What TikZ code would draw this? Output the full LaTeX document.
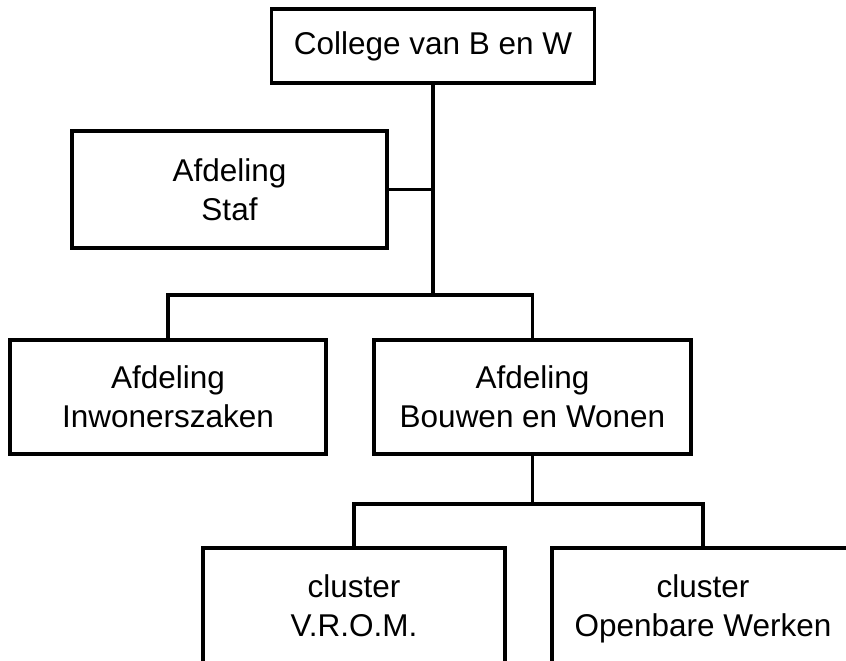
\documentclass[tikz,border=0pt]{standalone}
\usepackage{fontspec}
\setmainfont{Liberation Sans}
\usepackage{tikz}
\usetikzlibrary{positioning, calc}
\tikzset{
  unit/.style={rectangle, draw=black, fill=white,
    align=center, inner sep=0pt, line width=2.6pt,
    font=\fontsize{22.4}{27.7}\selectfont},
  line/.style={line width=2.6pt, color=black}
}

\begin{document}
\begin{tikzpicture}[scale=1.0]
  % ── Canvas ──────────────────────────────────────────────────────────────────
  \useasboundingbox[fill=white] (0,0) rectangle (21.15,16.5);
  \clip (0,0) rectangle (21.15,16.5);

  % ── Boxes ───────────────────────────────────────────────────────────────────
  \node[unit, minimum width=8.075cm, minimum height=1.85cm] (college) at (10.825,15.35) {College van B en W};
  \node[unit, minimum width=7.875cm, minimum height=2.925cm] (staf) at (5.7375,11.7625) {Afdeling\\Staf};
  \node[unit, minimum width=7.9cm, minimum height=2.85cm] (inwoners) at (4.2,6.575) {Afdeling\\Inwonerszaken};
  \node[unit, minimum width=7.925cm, minimum height=2.85cm] (bouwen) at (13.3125,6.575) {Afdeling\\Bouwen en Wonen};
  \node[unit, minimum width=7.55cm, minimum height=2.9cm] (vrom) at (8.85,1.35) {cluster\\V.R.O.M.};
  \node[unit, minimum width=7.55cm, minimum height=2.9cm] (werken) at (17.575,1.35) {cluster\\\smash{Openbare} Werken};

  % ── Connectors ──────────────────────────────────────────────────────────────
  \coordinate (bus1) at ($(college.south)+(0,-5.25)$);
  \coordinate (bus2) at ($(bouwen.south)+(0,-1.2)$);
  \draw[line] (college.south) -- (bus1);
  \draw[line] (staf.east) -- (staf.east -| college.south);
  \draw[line] (inwoners.north) |- (bus1) -| (bouwen.north);
  \draw[line] (bouwen.south) -- (bus2);
  \draw[line] (vrom.north) |- (bus2) -| (werken.north);
\end{tikzpicture}
\end{document}
